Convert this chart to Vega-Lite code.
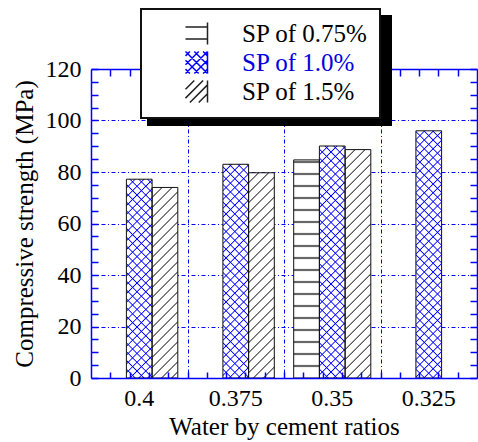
{
  "$schema": "https://vega.github.io/schema/vega-lite/v6.json",
  "width": 386,
  "height": 309,
  "autosize": {"type": "none"},
  "padding": {"left": 91, "top": 69, "right": 1, "bottom": 64},
  "background": "white",
  "config": {"view": {"stroke": null}, "font": "Liberation Serif", "legend": {"strokeWidth": 2}},
  "data": {
    "values": [
      {"ratio": "0.4", "sp": "SP of 1.0%", "strength": 77.2},
      {"ratio": "0.4", "sp": "SP of 1.5%", "strength": 74.0},
      {"ratio": "0.375", "sp": "SP of 1.0%", "strength": 83.0},
      {"ratio": "0.375", "sp": "SP of 1.5%", "strength": 79.7},
      {"ratio": "0.35", "sp": "SP of 0.75%", "strength": 84.7},
      {"ratio": "0.35", "sp": "SP of 1.0%", "strength": 90.1},
      {"ratio": "0.35", "sp": "SP of 1.5%", "strength": 88.7},
      {"ratio": "0.325", "sp": "SP of 1.0%", "strength": 96.0}
    ]
  },
  "layer": [
    {
      "mark": {"type": "point", "opacity": 0},
      "encoding": {
        "x": {"datum": 0, "type": "quantitative", "scale": {"domain": [0, 4], "nice": false, "zero": false},
          "axis": {"orient": "bottom", "values": [1, 2, 3], "grid": true, "gridColor": "#0000ff", "gridDash": [4, 2.5, 1, 2.5], "gridWidth": 1, "ticks": false, "labels": false, "domain": false, "title": null, "zindex": 0}},
        "y": {"datum": 0, "type": "quantitative", "scale": {"domain": [0, 120], "nice": false},
          "axis": {"orient": "left", "values": [20, 40, 60, 80, 100], "grid": true, "gridColor": "#0000ff", "gridDash": [4, 2.5, 1, 2.5], "gridWidth": 1, "ticks": false, "labels": false, "domain": false, "title": null, "zindex": 0}}
      }
    },
    {
      "encoding": {
        "x": {"field": "ratio", "type": "nominal", "sort": ["0.4", "0.375", "0.35", "0.325"],
          "scale": {"domain": ["0.4", "0.375", "0.35", "0.325"], "paddingInner": 0, "paddingOuter": 0},
          "axis": {"orient": "bottom", "ticks": false, "grid": false, "domain": true, "domainColor": "#0000ff", "domainWidth": 1.5, "labelAngle": 0, "labelFont": "Liberation Serif", "labelFontSize": 24, "labelColor": "black", "labelPadding": 8, "title": "Water by cement ratios", "titleFont": "Liberation Serif", "titleFontSize": 25, "titleFontWeight": "normal", "titleColor": "black", "titlePadding": 4, "zindex": 1}},
        "xOffset": {"field": "sp", "type": "nominal", "scale": {"domain": ["SP of 0.75%", "SP of 1.0%", "SP of 1.5%"], "paddingInner": 0, "paddingOuter": 0.377}},
        "y": {"field": "strength", "type": "quantitative", "scale": {"domain": [0, 120], "nice": false},
          "axis": {"orient": "left", "values": [0, 5, 10, 15, 20, 25, 30, 35, 40, 45, 50, 55, 60, 65, 70, 75, 80, 85, 90, 95, 100, 105, 110, 115, 120], "labelExpr": "datum.value % 20 === 0 ? datum.label : ''", "tickSize": -7, "tickColor": "#0000ff", "tickWidth": 1.5, "domainColor": "#0000ff", "domainWidth": 1.5, "grid": false, "labelFont": "Liberation Serif", "labelFontSize": 24, "labelColor": "black", "labelPadding": 17, "title": "Compressive strength (MPa)", "titleFont": "Liberation Serif", "titleFontSize": 25, "titleFontWeight": "normal", "titleColor": "black", "titlePadding": 8, "zindex": 1}}
      },
      "layer": [
        {
          "mark": {"type": "bar", "stroke": null},
          "encoding": {
            "fill": {"field": "sp", "type": "nominal", "scale": {"domain": ["SP of 0.75%", "SP of 1.0%", "SP of 1.5%"], "range": ["white", "white", "white"]},
              "legend": {"orient": "none", "legendX": 50, "legendY": -60, "title": null, "padding": 12, "symbolOffset": 31, "labelOffset": 33, "symbolSize": 484,
                "symbolType": {"expr": "datum.value === 'SP of 0.75%' ? 'M-1,-0.6H1M-1,0.5H1M1,-1V1' : datum.value === 'SP of 1.0%' ? 'M-1,-0.6L-0.6,-1M-1,0.2L0.2,-1M-1,1L1,-1M-0.2,1L1,-0.2M0.6,1L1,0.6M-1,0.6L-0.6,1M-1,-0.2L0.2,1M-1,-1L1,1M-0.2,-1L1,0.2M0.6,-1L1,-0.6M1,-1V1' : 'M-1,-0.2L-0.2,-1M-1,0.6L0.6,-1M-0.6,1L1,-0.6M0.2,1L1,0.2M1,-1V1'"},
                "symbolStrokeColor": {"expr": "datum.value === 'SP of 1.0%' ? '#0000ff' : '#222'"},
                "symbolFillColor": "transparent",
                "symbolStrokeWidth": 1.5,
                "labelColor": {"expr": "datum.value === 'SP of 1.0%' ? '#0000e0' : 'black'"},
                "labelFont": "'Liberation Serif'", "labelFontSize": 25, "labelLimit": 300, "strokeColor": "#111", "fillColor": "white", "rowPadding": 0, "zindex": 3}
            }
          }
        },
        {
          "transform": [{"filter": "datum.sp === 'SP of 0.75%'"}],
          "mark": {"type": "bar", "stroke": null, "fill": {"expr": "{gradient:'linear',x1:0,y1:1,x2:0,y2:1-400/(scale('y',0)-scale('y',datum.strength)),stops:[{offset:0.026,color:'#2220'},{offset:0.03,color:'#222'},{offset:0.034,color:'#2220'},{offset:0.056,color:'#2220'},{offset:0.06,color:'#222'},{offset:0.064,color:'#2220'},{offset:0.086,color:'#2220'},{offset:0.09,color:'#222'},{offset:0.094,color:'#2220'},{offset:0.116,color:'#2220'},{offset:0.12,color:'#222'},{offset:0.124,color:'#2220'},{offset:0.146,color:'#2220'},{offset:0.15,color:'#222'},{offset:0.154,color:'#2220'},{offset:0.176,color:'#2220'},{offset:0.18,color:'#222'},{offset:0.184,color:'#2220'},{offset:0.206,color:'#2220'},{offset:0.21,color:'#222'},{offset:0.214,color:'#2220'},{offset:0.236,color:'#2220'},{offset:0.24,color:'#222'},{offset:0.244,color:'#2220'},{offset:0.266,color:'#2220'},{offset:0.27,color:'#222'},{offset:0.274,color:'#2220'},{offset:0.296,color:'#2220'},{offset:0.3,color:'#222'},{offset:0.304,color:'#2220'},{offset:0.326,color:'#2220'},{offset:0.33,color:'#222'},{offset:0.334,color:'#2220'},{offset:0.356,color:'#2220'},{offset:0.36,color:'#222'},{offset:0.364,color:'#2220'},{offset:0.386,color:'#2220'},{offset:0.39,color:'#222'},{offset:0.394,color:'#2220'},{offset:0.416,color:'#2220'},{offset:0.42,color:'#222'},{offset:0.424,color:'#2220'},{offset:0.446,color:'#2220'},{offset:0.45,color:'#222'},{offset:0.454,color:'#2220'},{offset:0.476,color:'#2220'},{offset:0.48,color:'#222'},{offset:0.484,color:'#2220'},{offset:0.506,color:'#2220'},{offset:0.51,color:'#222'},{offset:0.514,color:'#2220'},{offset:0.536,color:'#2220'},{offset:0.54,color:'#222'},{offset:0.544,color:'#2220'}]}"}}
        },
        {
          "transform": [{"filter": "datum.sp === 'SP of 1.0%'"}],
          "mark": {"type": "bar", "stroke": null, "fill": {"expr": "{gradient:'linear',x1:0,y1:0,x2:400*bandwidth('xOffset')/(pow(bandwidth('xOffset'),2)+pow(scale('y',0)-scale('y',datum.strength),2)),y2:400*(scale('y',0)-scale('y',datum.strength))/(pow(bandwidth('xOffset'),2)+pow(scale('y',0)-scale('y',datum.strength),2)),stops:[{offset:0.019,color:'#00f0'},{offset:0.022,color:'#00f'},{offset:0.025,color:'#00f0'},{offset:0.041,color:'#00f0'},{offset:0.044,color:'#00f'},{offset:0.047,color:'#00f0'},{offset:0.063,color:'#00f0'},{offset:0.066,color:'#00f'},{offset:0.069,color:'#00f0'},{offset:0.085,color:'#00f0'},{offset:0.088,color:'#00f'},{offset:0.091,color:'#00f0'},{offset:0.107,color:'#00f0'},{offset:0.11,color:'#00f'},{offset:0.113,color:'#00f0'},{offset:0.129,color:'#00f0'},{offset:0.132,color:'#00f'},{offset:0.135,color:'#00f0'},{offset:0.151,color:'#00f0'},{offset:0.154,color:'#00f'},{offset:0.157,color:'#00f0'},{offset:0.173,color:'#00f0'},{offset:0.176,color:'#00f'},{offset:0.179,color:'#00f0'},{offset:0.195,color:'#00f0'},{offset:0.198,color:'#00f'},{offset:0.201,color:'#00f0'},{offset:0.217,color:'#00f0'},{offset:0.22,color:'#00f'},{offset:0.223,color:'#00f0'},{offset:0.239,color:'#00f0'},{offset:0.242,color:'#00f'},{offset:0.245,color:'#00f0'},{offset:0.261,color:'#00f0'},{offset:0.264,color:'#00f'},{offset:0.267,color:'#00f0'},{offset:0.283,color:'#00f0'},{offset:0.286,color:'#00f'},{offset:0.289,color:'#00f0'},{offset:0.305,color:'#00f0'},{offset:0.308,color:'#00f'},{offset:0.311,color:'#00f0'},{offset:0.327,color:'#00f0'},{offset:0.33,color:'#00f'},{offset:0.333,color:'#00f0'},{offset:0.349,color:'#00f0'},{offset:0.352,color:'#00f'},{offset:0.355,color:'#00f0'},{offset:0.371,color:'#00f0'},{offset:0.374,color:'#00f'},{offset:0.377,color:'#00f0'},{offset:0.393,color:'#00f0'},{offset:0.396,color:'#00f'},{offset:0.399,color:'#00f0'},{offset:0.415,color:'#00f0'},{offset:0.418,color:'#00f'},{offset:0.421,color:'#00f0'},{offset:0.437,color:'#00f0'},{offset:0.44,color:'#00f'},{offset:0.443,color:'#00f0'},{offset:0.459,color:'#00f0'},{offset:0.462,color:'#00f'},{offset:0.465,color:'#00f0'},{offset:0.481,color:'#00f0'},{offset:0.484,color:'#00f'},{offset:0.487,color:'#00f0'},{offset:0.503,color:'#00f0'},{offset:0.506,color:'#00f'},{offset:0.509,color:'#00f0'},{offset:0.525,color:'#00f0'},{offset:0.528,color:'#00f'},{offset:0.531,color:'#00f0'},{offset:0.547,color:'#00f0'},{offset:0.55,color:'#00f'},{offset:0.553,color:'#00f0'},{offset:0.569,color:'#00f0'},{offset:0.572,color:'#00f'},{offset:0.575,color:'#00f0'},{offset:0.591,color:'#00f0'},{offset:0.594,color:'#00f'},{offset:0.597,color:'#00f0'},{offset:0.613,color:'#00f0'},{offset:0.616,color:'#00f'},{offset:0.619,color:'#00f0'},{offset:0.635,color:'#00f0'},{offset:0.638,color:'#00f'},{offset:0.641,color:'#00f0'},{offset:0.657,color:'#00f0'},{offset:0.66,color:'#00f'},{offset:0.663,color:'#00f0'},{offset:0.679,color:'#00f0'},{offset:0.682,color:'#00f'},{offset:0.685,color:'#00f0'}]}"}}
        },
        {
          "transform": [{"filter": "datum.sp === 'SP of 1.0%'"}],
          "mark": {"type": "bar", "stroke": null, "fill": {"expr": "{gradient:'linear',x1:0,y1:1,x2:400*bandwidth('xOffset')/(pow(bandwidth('xOffset'),2)+pow(scale('y',0)-scale('y',datum.strength),2)),y2:1-400*(scale('y',0)-scale('y',datum.strength))/(pow(bandwidth('xOffset'),2)+pow(scale('y',0)-scale('y',datum.strength),2)),stops:[{offset:0.019,color:'#00f0'},{offset:0.022,color:'#00f'},{offset:0.025,color:'#00f0'},{offset:0.041,color:'#00f0'},{offset:0.044,color:'#00f'},{offset:0.047,color:'#00f0'},{offset:0.063,color:'#00f0'},{offset:0.066,color:'#00f'},{offset:0.069,color:'#00f0'},{offset:0.085,color:'#00f0'},{offset:0.088,color:'#00f'},{offset:0.091,color:'#00f0'},{offset:0.107,color:'#00f0'},{offset:0.11,color:'#00f'},{offset:0.113,color:'#00f0'},{offset:0.129,color:'#00f0'},{offset:0.132,color:'#00f'},{offset:0.135,color:'#00f0'},{offset:0.151,color:'#00f0'},{offset:0.154,color:'#00f'},{offset:0.157,color:'#00f0'},{offset:0.173,color:'#00f0'},{offset:0.176,color:'#00f'},{offset:0.179,color:'#00f0'},{offset:0.195,color:'#00f0'},{offset:0.198,color:'#00f'},{offset:0.201,color:'#00f0'},{offset:0.217,color:'#00f0'},{offset:0.22,color:'#00f'},{offset:0.223,color:'#00f0'},{offset:0.239,color:'#00f0'},{offset:0.242,color:'#00f'},{offset:0.245,color:'#00f0'},{offset:0.261,color:'#00f0'},{offset:0.264,color:'#00f'},{offset:0.267,color:'#00f0'},{offset:0.283,color:'#00f0'},{offset:0.286,color:'#00f'},{offset:0.289,color:'#00f0'},{offset:0.305,color:'#00f0'},{offset:0.308,color:'#00f'},{offset:0.311,color:'#00f0'},{offset:0.327,color:'#00f0'},{offset:0.33,color:'#00f'},{offset:0.333,color:'#00f0'},{offset:0.349,color:'#00f0'},{offset:0.352,color:'#00f'},{offset:0.355,color:'#00f0'},{offset:0.371,color:'#00f0'},{offset:0.374,color:'#00f'},{offset:0.377,color:'#00f0'},{offset:0.393,color:'#00f0'},{offset:0.396,color:'#00f'},{offset:0.399,color:'#00f0'},{offset:0.415,color:'#00f0'},{offset:0.418,color:'#00f'},{offset:0.421,color:'#00f0'},{offset:0.437,color:'#00f0'},{offset:0.44,color:'#00f'},{offset:0.443,color:'#00f0'},{offset:0.459,color:'#00f0'},{offset:0.462,color:'#00f'},{offset:0.465,color:'#00f0'},{offset:0.481,color:'#00f0'},{offset:0.484,color:'#00f'},{offset:0.487,color:'#00f0'},{offset:0.503,color:'#00f0'},{offset:0.506,color:'#00f'},{offset:0.509,color:'#00f0'},{offset:0.525,color:'#00f0'},{offset:0.528,color:'#00f'},{offset:0.531,color:'#00f0'},{offset:0.547,color:'#00f0'},{offset:0.55,color:'#00f'},{offset:0.553,color:'#00f0'},{offset:0.569,color:'#00f0'},{offset:0.572,color:'#00f'},{offset:0.575,color:'#00f0'},{offset:0.591,color:'#00f0'},{offset:0.594,color:'#00f'},{offset:0.597,color:'#00f0'},{offset:0.613,color:'#00f0'},{offset:0.616,color:'#00f'},{offset:0.619,color:'#00f0'},{offset:0.635,color:'#00f0'},{offset:0.638,color:'#00f'},{offset:0.641,color:'#00f0'},{offset:0.657,color:'#00f0'},{offset:0.66,color:'#00f'},{offset:0.663,color:'#00f0'},{offset:0.679,color:'#00f0'},{offset:0.682,color:'#00f'},{offset:0.685,color:'#00f0'}]}"}}
        },
        {
          "transform": [{"filter": "datum.sp === 'SP of 1.5%'"}],
          "mark": {"type": "bar", "stroke": null, "fill": {"expr": "{gradient:'linear',x1:0,y1:0,x2:400*bandwidth('xOffset')/(pow(bandwidth('xOffset'),2)+pow(scale('y',0)-scale('y',datum.strength),2)),y2:400*(scale('y',0)-scale('y',datum.strength))/(pow(bandwidth('xOffset'),2)+pow(scale('y',0)-scale('y',datum.strength),2)),stops:[{offset:0.022,color:'#2220'},{offset:0.025,color:'#222'},{offset:0.028,color:'#2220'},{offset:0.047,color:'#2220'},{offset:0.05,color:'#222'},{offset:0.053,color:'#2220'},{offset:0.072,color:'#2220'},{offset:0.075,color:'#222'},{offset:0.078,color:'#2220'},{offset:0.097,color:'#2220'},{offset:0.1,color:'#222'},{offset:0.103,color:'#2220'},{offset:0.122,color:'#2220'},{offset:0.125,color:'#222'},{offset:0.128,color:'#2220'},{offset:0.147,color:'#2220'},{offset:0.15,color:'#222'},{offset:0.153,color:'#2220'},{offset:0.172,color:'#2220'},{offset:0.175,color:'#222'},{offset:0.178,color:'#2220'},{offset:0.197,color:'#2220'},{offset:0.2,color:'#222'},{offset:0.203,color:'#2220'},{offset:0.222,color:'#2220'},{offset:0.225,color:'#222'},{offset:0.228,color:'#2220'},{offset:0.247,color:'#2220'},{offset:0.25,color:'#222'},{offset:0.253,color:'#2220'},{offset:0.272,color:'#2220'},{offset:0.275,color:'#222'},{offset:0.278,color:'#2220'},{offset:0.297,color:'#2220'},{offset:0.3,color:'#222'},{offset:0.303,color:'#2220'},{offset:0.322,color:'#2220'},{offset:0.325,color:'#222'},{offset:0.328,color:'#2220'},{offset:0.347,color:'#2220'},{offset:0.35,color:'#222'},{offset:0.353,color:'#2220'},{offset:0.372,color:'#2220'},{offset:0.375,color:'#222'},{offset:0.378,color:'#2220'},{offset:0.397,color:'#2220'},{offset:0.4,color:'#222'},{offset:0.403,color:'#2220'},{offset:0.422,color:'#2220'},{offset:0.425,color:'#222'},{offset:0.428,color:'#2220'},{offset:0.447,color:'#2220'},{offset:0.45,color:'#222'},{offset:0.453,color:'#2220'},{offset:0.472,color:'#2220'},{offset:0.475,color:'#222'},{offset:0.478,color:'#2220'},{offset:0.497,color:'#2220'},{offset:0.5,color:'#222'},{offset:0.503,color:'#2220'},{offset:0.522,color:'#2220'},{offset:0.525,color:'#222'},{offset:0.528,color:'#2220'},{offset:0.547,color:'#2220'},{offset:0.55,color:'#222'},{offset:0.553,color:'#2220'},{offset:0.572,color:'#2220'},{offset:0.575,color:'#222'},{offset:0.578,color:'#2220'},{offset:0.597,color:'#2220'},{offset:0.6,color:'#222'},{offset:0.603,color:'#2220'},{offset:0.622,color:'#2220'},{offset:0.625,color:'#222'},{offset:0.628,color:'#2220'},{offset:0.647,color:'#2220'},{offset:0.65,color:'#222'},{offset:0.653,color:'#2220'}]}"}}
        },
        {
          "mark": {"type": "bar", "fill": "transparent", "strokeWidth": 1},
          "encoding": {
            "stroke": {"field": "sp", "type": "nominal", "scale": {"range": ["#111", "#111", "#111"]},
              "legend": {"orient": "none", "legendX": 57, "legendY": -53, "title": null, "padding": 12, "symbolOffset": 31, "labelOffset": 163, "symbolSize": 484, "symbolType": "square",
                "labelExpr": "'\u00a0\u00a0\u00a0\u00a0\u00a0\u00a0\u00a0\u00a0\u00a0\u00a0\u00a0\u00a0\u00a0\u00a0\u00a0\u00a0\u00a0\u00a0\u00a0\u00a0'",
                "labelFont": "'Liberation Serif'", "labelFontSize": 25, "labelColor": "black", "labelLimit": 300, "strokeColor": "black", "fillColor": "black", "rowPadding": 0, "zindex": 2}}
          }
        }
      ]
    },
    {
      "mark": {"type": "point", "opacity": 0},
      "encoding": {
        "x": {"datum": 0, "type": "quantitative", "scale": {"domain": [0, 20], "nice": false, "zero": false},
          "axis": {"orient": "bottom", "values": [1, 2, 3, 4, 5, 6, 7, 8, 9, 10, 11, 12, 13, 14, 15, 16, 17, 18, 19], "tickSize": -6, "tickColor": "#0000ff", "tickWidth": 1.5, "labels": false, "domain": false, "grid": false, "title": null, "zindex": 1}},
        "y": {"datum": 0, "type": "quantitative", "scale": {"domain": [0, 120], "nice": false},
          "axis": {"orient": "right", "values": [0, 5, 10, 15, 20, 25, 30, 35, 40, 45, 50, 55, 60, 65, 70, 75, 80, 85, 90, 95, 100, 105, 110, 115, 120], "tickSize": -7, "tickColor": "#0000ff", "tickWidth": 1.5, "labels": false, "domain": true, "domainColor": "#0000ff", "domainWidth": 1.5, "grid": false, "title": null, "zindex": 1}}
      }
    },
    {
      "mark": {"type": "point", "opacity": 0},
      "encoding": {
        "x": {"datum": 0, "type": "quantitative", "scale": {"domain": [0, 20], "nice": false, "zero": false},
          "axis": {"orient": "top", "values": [1, 2, 3, 4, 5, 6, 7, 8, 9, 10, 11, 12, 13, 14, 15, 16, 17, 18, 19], "tickSize": -7, "tickColor": "#0000ff", "tickWidth": 1.5, "labels": false, "domain": true, "domainColor": "#0000ff", "domainWidth": 1.5, "grid": false, "title": null, "zindex": 1}}
      }
    }
  ],
  "resolve": {"scale": {"x": "independent"}, "axis": {"x": "independent", "y": "independent"}}
}
